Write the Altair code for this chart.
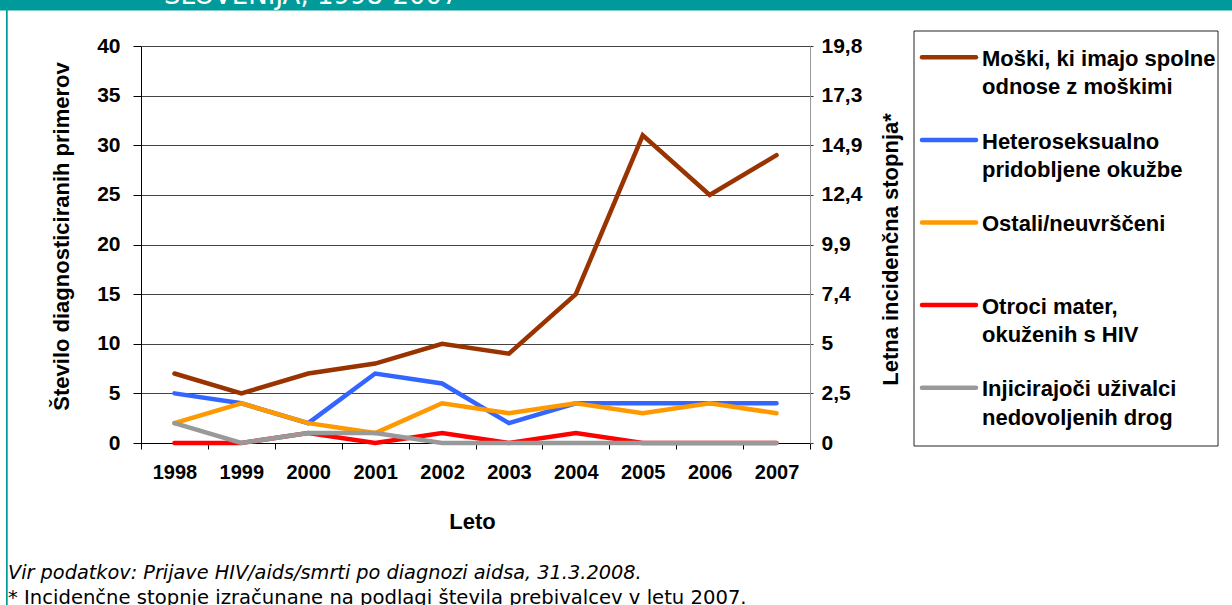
import json
import altair as alt
import pandas as pd

# Annual HIV diagnoses by transmission group
years = ["1998", "1999", "2000", "2001", "2002", "2003", "2004", "2005", "2006", "2007"]
msm = [7, 5, 7, 8, 10, 9, 15, 31, 25, 29]
hetero = [5, 4, 2, 7, 6, 2, 4, 4, 4, 4]
other = [2, 4, 2, 1, 4, 3, 4, 3, 4, 3]
children = [0, 0, 1, 0, 1, 0, 1, 0, 0, 0]
idu = [2, 0, 1, 1, 0, 0, 0, 0, 0, 0]

series_names = [
    "Moški, ki imajo spolne\nodnose z moškimi",
    "Heteroseksualno\npridobljene okužbe",
    "Ostali/neuvrščeni",
    "Otroci mater,\nokuženih s HIV",
    "Injicirajoči uživalci\nnedovoljenih drog",
]
series_values = [msm, hetero, other, children, idu]
series_colors = ["#993300", "#3366ff", "#ff9900", "#ff0000", "#999999"]

left_ticks = [0, 5, 10, 15, 20, 25, 30, 35, 40]
rate_labels = ["0", "2,5", "5", "7,4", "9,9", "12,4", "14,9", "17,3", "19,8"]

source_note = "Vir podatkov: Prijave HIV/aids/smrti po diagnozi aidsa, 31.3.2008."
rate_note = "* Incidenčne stopnje izračunane na podlagi števila prebivalcev v letu 2007."
banner_text = "SLOVENIJA, 1998-2007"

FONT = "Liberation Sans"
NOTE_FONT = "DejaVu Sans"
TEAL = "#009a9a"

# plot area geometry (pixels)
W, H = 669, 397
PAD_L, PAD_T = 141, 46
TOTAL_W, TOTAL_H = 1232, 605

rows = []
for name, vals in zip(series_names, series_values):
    for yr, v in zip(years, vals):
        rows.append({"Leto": yr, "value": v, "series": name})
df = pd.DataFrame(rows)

x_enc = alt.X(
    "Leto:O",
    scale=alt.Scale(type="band", paddingInner=0, paddingOuter=0),
    axis=alt.Axis(
        title="Leto", tickBand="extent", labelAngle=0, grid=False,
        domainColor="#000", tickColor="#000", tickSize=6, labelPadding=23,
        labelBaseline="middle",
        labelFont=FONT, labelFontSize=20, labelFontWeight="bold", labelColor="#000",
        titleFont=FONT, titleFontSize=22, titleFontWeight="bold", titleColor="#000",
        titleX=331, titleY=78, titleBaseline="middle",
    ),
)

y_left = alt.Y(
    "value:Q",
    scale=alt.Scale(domain=[0, 40], nice=False),
    axis=alt.Axis(
        orient="left", values=left_ticks, grid=True, gridColor="#444",
        domainColor="#000", tickColor="#000", tickSize=8, labelPadding=13,
        labelOverlap=False,
        labelFont=FONT, labelFontSize=21, labelFontWeight="bold", labelColor="#000",
        title="Število diagnosticiranih primerov",
        titleFont=FONT, titleFontSize=22, titleFontWeight="bold", titleColor="#000",
        titleAngle=270, titleX=-80, titleY=190, titleBaseline="middle",
    ),
)

label_js = json.dumps(rate_labels)
y_right = alt.Y(
    "value:Q",
    scale=alt.Scale(domain=[0, 40], nice=False),
    axis=alt.Axis(
        orient="right", values=left_ticks, grid=False,
        domainColor="#999", tickColor="#333", tickSize=3, labelPadding=8,
        labelOverlap=False,
        labelExpr=f"{label_js}[round(datum.value / 5)]",
        labelFont=FONT, labelFontSize=21, labelFontWeight="bold", labelColor="#000",
        title="Letna incidenčna stopnja*",
        titleFont=FONT, titleFontSize=22, titleFontWeight="bold", titleColor="#000",
        titleAngle=270, titleX=80, titleY=203, titleBaseline="middle",
    ),
)

# one layer per series so that later groups are drawn on top
line_layers = []
for name, color in zip(series_names, series_colors):
    line_layers.append(
        alt.Chart(df[df["series"] == name])
        .mark_line(color=color, strokeWidth=4.5, strokeCap="round")
        .encode(x=x_enc, y=y_left)
    )
lines = alt.layer(*line_layers)

right_axis = (
    alt.Chart(df[df["series"] == series_names[0]])
    .mark_line(opacity=0)
    .encode(x=x_enc, y=y_right)
)

one = pd.DataFrame({"k": [0]})

# frame decoration: teal header band and left edge
band = alt.Chart(one).mark_rect(color=TEAL).encode(
    x=alt.value(-PAD_L), x2=alt.value(TOTAL_W - PAD_L),
    y=alt.value(-PAD_T), y2=alt.value(-PAD_T + 10.5),
)
edge = alt.Chart(one).mark_rect(color=TEAL).encode(
    x=alt.value(-PAD_L + 6), x2=alt.value(-PAD_L + 7.7),
    y=alt.value(-PAD_T), y2=alt.value(TOTAL_H - PAD_T),
)
banner = alt.Chart(one).mark_text(
    text=banner_text, color="white", font=NOTE_FONT, fontSize=26,
    align="left", baseline="alphabetic",
).encode(x=alt.value(164 - PAD_L), y=alt.value(4 - PAD_T))

# legend box with stroke swatches
legend_box = alt.Chart(one).mark_rect(fill="white", stroke="#222", strokeWidth=1).encode(
    x=alt.value(914 - PAD_L), x2=alt.value(1218 - PAD_L),
    y=alt.value(31 - PAD_T), y2=alt.value(446 - PAD_T),
)
legend_layers = [legend_box]
for i, (name, color) in enumerate(zip(series_names, series_colors)):
    sy = 57.3 + i * 82.6 - PAD_T
    legend_layers.append(
        alt.Chart(one).mark_rule(color=color, strokeWidth=4.5, strokeCap="round").encode(
            x=alt.value(922 - PAD_L), x2=alt.value(976 - PAD_L), y=alt.value(sy)
        )
    )
    legend_layers.append(
        alt.Chart(one).mark_text(
            text=name, lineBreak="\n", lineHeight=28.5, align="left",
            baseline="alphabetic", font=FONT, fontSize=22, fontWeight="bold", color="#000",
        ).encode(x=alt.value(982 - PAD_L), y=alt.value(sy + 8.6))
    )

notes = [
    alt.Chart(one).mark_text(
        text=source_note, font=NOTE_FONT, fontSize=19.3, fontStyle="italic",
        align="left", baseline="alphabetic", color="#000",
    ).encode(x=alt.value(8 - PAD_L), y=alt.value(579 - PAD_T)),
    alt.Chart(one).mark_text(
        text=rate_note, font=NOTE_FONT, fontSize=19.6,
        align="left", baseline="alphabetic", color="#000",
    ).encode(x=alt.value(8 - PAD_L), y=alt.value(604 - PAD_T)),
]

chart = (
    alt.layer(band, edge, banner, *legend_layers, *notes, lines, right_axis)
    .resolve_scale(y="independent")
    .properties(
        width=W, height=H,
        autosize=alt.AutoSizeParams(type="none"),
        padding={"left": PAD_L, "top": PAD_T,
                 "right": TOTAL_W - PAD_L - W, "bottom": TOTAL_H - PAD_T - H},
        background="white",
    )
    .configure_view(strokeOpacity=0)
)

chart.save("out.html", embed_options={"renderer": "svg", "actions": False})
